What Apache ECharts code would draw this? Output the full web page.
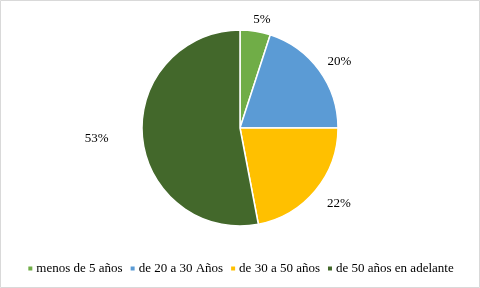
<!DOCTYPE html>
<html>
<head>
<meta charset="utf-8">
<script src="https://cdn.jsdelivr.net/npm/echarts@6/dist/echarts.min.js"></script>
<style>
html,body{margin:0;padding:0;background:#fff;}
#c{width:480px;height:288px;}
</style>
</head>
<body>
<div id="c"></div>
<script>
const categories = ['menos de 5 años', 'de 20 a 30 Años', 'de 30 a 50 años', 'de 50 años en adelante'];
const values = [5, 20, 22, 53];
const colors = ['#70AD47', '#5B9BD5', '#FFC000', '#43682B'];
const lineLengths = [12, 15, 20, 15];
const lineLengths2 = [0, 0, 0, 23];

const chart = echarts.init(document.getElementById('c'), null, {renderer: 'canvas'});
const font = '"Liberation Serif", "Times New Roman", serif';

const data = categories.map((name, i) => ({
  name: name,
  value: values[i],
  itemStyle: {color: colors[i]},
  labelLine: {show: false, length: lineLengths[i], length2: lineLengths2[i]}
}));

chart.setOption({
  animation: false,
  backgroundColor: '#fff',
  graphic: [{
    type: 'rect',
    shape: {x: 0.5, y: 0.5, width: 479, height: 287},
    style: {fill: 'none', stroke: '#d9d9d9', lineWidth: 1}
  }],
  legend: {
    bottom: 8,
    left: 'center',
    icon: 'rect',
    itemWidth: 6,
    itemHeight: 6,
    itemGap: 6,
    textStyle: {fontFamily: font, fontSize: 13, color: '#000', padding: [0, 0, 0, -2]},
    data: categories
  },
  series: [{
    type: 'pie',
    center: [240, 128],
    radius: [0, 98],
    startAngle: 90,
    clockwise: true,
    avoidLabelOverlap: false,
    itemStyle: {borderColor: '#fff', borderWidth: 1.5},
    label: {
      show: true,
      position: 'outside',
      formatter: '{d}%',
      fontFamily: font,
      fontSize: 13,
      color: '#000',
      distanceToLabelLine: -4
    },
    labelLine: {show: false},
    emphasis: {disabled: true},
    data: data
  }]
});
</script>
</body>
</html>
